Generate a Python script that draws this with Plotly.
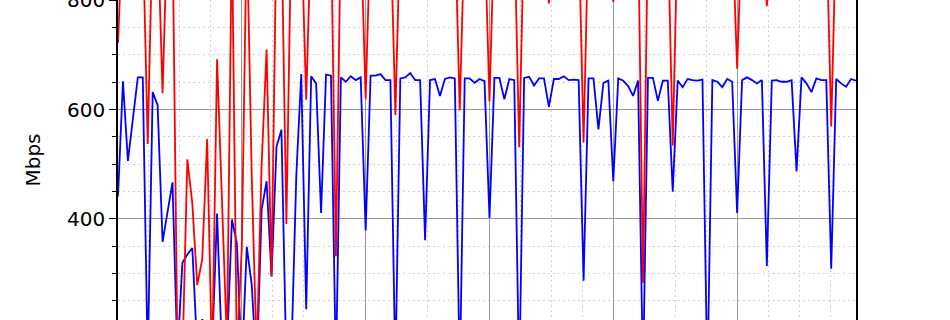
import plotly.graph_objects as go

# sample index (x axis)
t = list(range(150))

# throughput series, Mbps (values below ~215 / above ~800 are off-view estimates)
blue = [441, 652, 506, 580, 659, 659, 140, 632, 608, 358,
        410, 467, 150, 320, 335, 347, 160, 217, 150, 160,
        410, 150, 160, 399, 356, 130, 349, 280, 120, 417,
        469, 295, 532, 563, 130, 150, 480, 665, 235, 661,
        648, 411, 664, 662, 120, 659, 651, 661, 654, 659,
        379, 662, 662, 665, 654, 654, 120, 657, 659, 667,
        654, 654, 361, 654, 656, 625, 656, 659, 657, 110,
        657, 657, 649, 656, 652, 402, 658, 658, 619, 656,
        654, 100, 658, 660, 644, 657, 657, 605, 656, 656,
        661, 654, 655, 654, 287, 657, 657, 564, 649, 653,
        469, 657, 653, 643, 625, 653, 110, 658, 658, 616,
        653, 653, 450, 653, 641, 656, 654, 653, 655, 100,
        654, 651, 641, 656, 651, 411, 654, 659, 654, 648,
        654, 314, 653, 654, 651, 651, 654, 487, 659, 648,
        632, 657, 654, 654, 309, 656, 648, 642, 656, 653]

red = [722, 945, 935, 950, 940, 930, 537, 940, 935, 630,
       945, 940, 160, 140, 509, 429, 279, 326, 546, 130,
       692, 430, 170, 930, 150, 350, 940, 480, 150, 500,
       710, 296, 940, 935, 391, 945, 940, 935, 618, 940,
       945, 935, 940, 945, 332, 940, 935, 945, 940, 935,
       619, 940, 945, 935, 940, 945, 590, 940, 935, 945,
       940, 935, 945, 940, 935, 945, 940, 935, 945, 599,
       940, 935, 945, 940, 935, 615, 940, 945, 935, 940,
       945, 531, 940, 935, 945, 940, 935, 794, 940, 945,
       935, 940, 945, 935, 540, 940, 935, 945, 940, 935,
       797, 940, 945, 935, 940, 945, 283, 940, 935, 945,
       940, 935, 534, 940, 945, 935, 940, 945, 935, 940,
       945, 935, 940, 945, 935, 675, 940, 945, 935, 940,
       945, 789, 940, 935, 945, 940, 935, 945, 940, 935,
       945, 940, 935, 945, 569, 940, 935, 945, 940, 935]

fig = go.Figure()
fig.add_trace(go.Scatter(x=t, y=blue, mode='lines',
                         line=dict(color='#0000ff', width=1.8)))
fig.add_trace(go.Scatter(x=t, y=red, mode='lines',
                         line=dict(color='#ff0000', width=1.8)))

fig.update_layout(
    template='none',
    width=950, height=320,
    margin=dict(l=118, r=94, t=0, b=0, pad=0),
    plot_bgcolor='white', paper_bgcolor='white',
    showlegend=False,
    font=dict(family='DejaVu Sans', size=20, color='black'),
)

fig.update_xaxes(
    range=[0, 149], tick0=0, dtick=25,
    showgrid=True, gridcolor='#999999', gridwidth=1.3,
    showticklabels=False, ticks='', zeroline=False, showline=False,
    automargin=False,
    minor=dict(tick0=0, dtick=6.25, showgrid=True, gridcolor='#cfcfcf',
               griddash='2px,3px', gridwidth=1),
)

fig.update_yaxes(
    range=[215.2, 800.5], tick0=0, dtick=200,
    showgrid=True, gridcolor='#999999', gridwidth=1.3,
    zeroline=False,
    showline=True, linecolor='black', linewidth=1.5, mirror=True,
    ticks='outside', ticklen=7, tickwidth=1.3, tickcolor='black',
    tickfont=dict(family='DejaVu Sans', size=20, color='black'),
    ticklabeloverflow='allow',
    automargin=False,
    title=dict(text='Mbps', standoff=21,
               font=dict(family='DejaVu Sans', size=20, color='black')),
    minor=dict(tick0=0, dtick=50, ticks='outside', ticklen=4, tickwidth=1.2,
               tickcolor='black', showgrid=True, gridcolor='#cfcfcf',
               griddash='2px,3px', gridwidth=1),
)

fig.write_html("out.html")
